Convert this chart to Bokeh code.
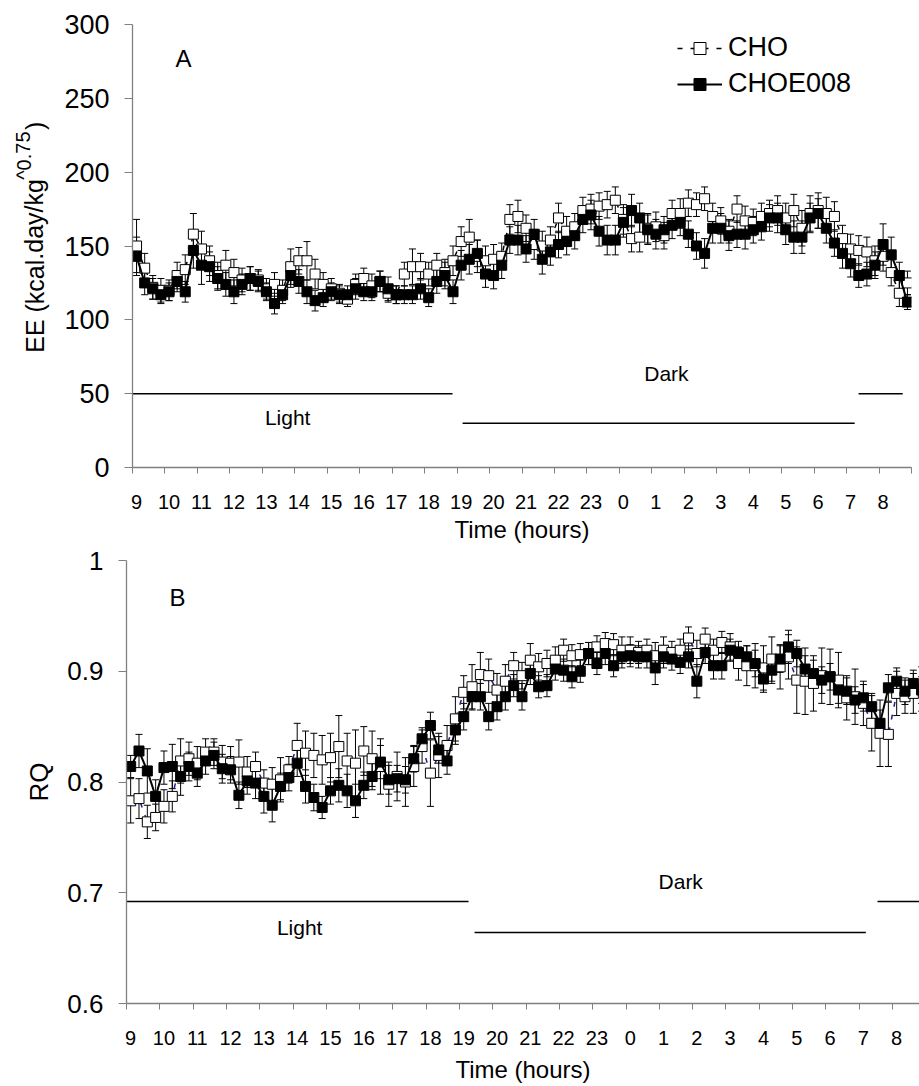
from bokeh.plotting import figure
from bokeh.models import (ColumnDataSource, FixedTicker, Whisker, TeeHead, Legend,
                          LegendItem, Label, Range1d)
from bokeh.layouts import column, row
from bokeh.embed import file_html
from bokeh.resources import INLINE

FONT = "Liberation Sans"

# ---------------- data ----------------
HOUR_LABELS = ["9", "10", "11", "12", "13", "14", "15", "16", "17", "18", "19", "20",
               "21", "22", "23", "0", "1", "2", "3", "4", "5", "6", "7", "8"]
N_BINS = 96                      # 15-minute bins from 09:00
TIME_H = [(i + 0.5) * 0.25 for i in range(N_BINS)]   # bin centres, hours after 09:00
HOUR_TICKS = list(range(25))
LABEL_POS = [k + 0.125 for k in range(24)]

EE_CHO = [150, 135, 122, 120, 120, 130, 134, 158, 148, 140,
          130, 137, 132, 127, 128, 127, 121, 124, 120, 136,
          140, 140, 131, 124, 121, 118, 114, 124, 128, 123,
          126, 118, 117, 131, 136, 136, 131, 137, 132, 140,
          153, 156, 143, 140, 141, 143, 168, 170, 162, 151,
          150, 154, 169, 160, 163, 174, 175, 177, 178, 181,
          168, 155, 156, 162, 163, 157, 172, 172, 179, 178,
          182, 170, 167, 160, 175, 167, 166, 170, 172, 174,
          169, 174, 162, 172, 174, 172, 170, 155, 148, 147,
          146, 140, 143, 132, 118, 125]
EE_CHO_ERR = [18, 10, 8, 8, 7, 9, 10, 14, 12, 10,
              9, 10, 9, 8, 8, 7, 7, 8, 7, 12,
              9, 13, 10, 8, 7, 6, 5, 7, 7, 8,
              7, 6, 6, 8, 12, 9, 8, 8, 9, 10,
              10, 12, 11, 10, 10, 9, 10, 11, 9, 10,
              10, 9, 10, 10, 9, 9, 10, 9, 9, 9,
              10, 9, 10, 10, 10, 9, 9, 10, 9, 8,
              8, 9, 9, 8, 9, 10, 9, 9, 9, 10,
              10, 11, 12, 12, 12, 11, 10, 9, 10, 10,
              10, 10, 10, 9, 9, 8]
EE_E008 = [143, 125, 121, 117, 119, 126, 119, 147, 137, 136,
           128, 124, 119, 124, 128, 126, 119, 111, 117, 130,
           126, 119, 113, 115, 119, 117, 117, 121, 119, 119,
           126, 121, 117, 117, 117, 121, 115, 126, 130, 119,
           137, 141, 145, 131, 130, 137, 154, 154, 148, 158,
           141, 146, 151, 153, 157, 168, 171, 160, 154, 154,
           166, 174, 169, 161, 158, 161, 164, 166, 158, 150,
           145, 162, 162, 157, 158, 158, 161, 163, 169, 169,
           161, 156, 156, 169, 172, 162, 152, 145, 138, 130,
           131, 137, 151, 144, 130, 112]
EE_E008_ERR = [13, 8, 7, 6, 6, 7, 7, 12, 13, 10,
               8, 8, 8, 7, 8, 7, 6, 7, 6, 8,
               8, 8, 7, 6, 6, 6, 6, 7, 6, 6,
               7, 8, 6, 6, 6, 7, 6, 8, 9, 8,
               10, 10, 9, 9, 9, 9, 9, 10, 9, 10,
               10, 9, 9, 9, 9, 9, 10, 10, 10, 10,
               10, 11, 10, 10, 10, 9, 9, 9, 9, 9,
               10, 10, 10, 10, 9, 10, 9, 9, 9, 10,
               10, 11, 11, 10, 10, 10, 9, 10, 9, 8,
               8, 9, 14, 12, 9, 5]

RQ_CHO = [0.783, 0.785, 0.764, 0.768, 0.778, 0.787, 0.819, 0.821, 0.817, 0.827,
          0.827, 0.818, 0.817, 0.818, 0.809, 0.814, 0.799, 0.798, 0.802, 0.811,
          0.833, 0.826, 0.824, 0.820, 0.822, 0.832, 0.819, 0.817, 0.828, 0.821,
          0.814, 0.798, 0.805, 0.800, 0.814, 0.832, 0.808, 0.824, 0.833, 0.857,
          0.881, 0.886, 0.897, 0.896, 0.883, 0.891, 0.905, 0.896, 0.910, 0.904,
          0.907, 0.910, 0.919, 0.914, 0.915, 0.916, 0.922, 0.925, 0.924, 0.919,
          0.919, 0.917, 0.919, 0.914, 0.919, 0.917, 0.919, 0.930, 0.916, 0.929,
          0.919, 0.926, 0.922, 0.907, 0.905, 0.905, 0.903, 0.911, 0.904, 0.913,
          0.892, 0.891, 0.889, 0.896, 0.895, 0.892, 0.876, 0.877, 0.871, 0.853,
          0.844, 0.843, 0.880, 0.877, 0.880, 0.884]
RQ_CHO_ERR = [0.020, 0.018, 0.015, 0.012, 0.015, 0.014, 0.020, 0.015, 0.015, 0.012,
              0.012, 0.015, 0.015, 0.020, 0.014, 0.013, 0.012, 0.015, 0.020, 0.012,
              0.020, 0.020, 0.020, 0.022, 0.022, 0.028, 0.025, 0.030, 0.022, 0.025,
              0.025, 0.020, 0.022, 0.022, 0.018, 0.015, 0.030, 0.020, 0.018, 0.020,
              0.015, 0.020, 0.020, 0.015, 0.015, 0.015, 0.012, 0.012, 0.015, 0.012,
              0.012, 0.012, 0.010, 0.010, 0.010, 0.010, 0.010, 0.010, 0.010, 0.012,
              0.012, 0.010, 0.010, 0.012, 0.012, 0.010, 0.010, 0.010, 0.012, 0.010,
              0.010, 0.010, 0.012, 0.015, 0.018, 0.020, 0.020, 0.020, 0.020, 0.020,
              0.030, 0.030, 0.025, 0.025, 0.025, 0.025, 0.020, 0.025, 0.020, 0.025,
              0.030, 0.029, 0.020, 0.015, 0.018, 0.020]
RQ_E008 = [0.814, 0.828, 0.810, 0.787, 0.813, 0.814, 0.805, 0.814, 0.808, 0.819,
           0.824, 0.812, 0.811, 0.788, 0.801, 0.799, 0.787, 0.779, 0.796, 0.804,
           0.817, 0.796, 0.786, 0.777, 0.792, 0.797, 0.792, 0.783, 0.797, 0.805,
           0.818, 0.802, 0.803, 0.802, 0.821, 0.839, 0.851, 0.829, 0.819, 0.847,
           0.859, 0.877, 0.877, 0.859, 0.868, 0.877, 0.887, 0.877, 0.898, 0.886,
           0.887, 0.902, 0.901, 0.895, 0.900, 0.916, 0.907, 0.916, 0.905, 0.913,
           0.914, 0.913, 0.913, 0.903, 0.913, 0.911, 0.908, 0.913, 0.891, 0.917,
           0.905, 0.905, 0.919, 0.917, 0.913, 0.907, 0.893, 0.901, 0.911, 0.922,
           0.916, 0.902, 0.898, 0.892, 0.895, 0.883, 0.882, 0.874, 0.876, 0.868,
           0.853, 0.885, 0.891, 0.882, 0.889, 0.883]
RQ_E008_ERR = [0.010, 0.015, 0.020, 0.015, 0.015, 0.020, 0.017, 0.013, 0.012, 0.012,
               0.012, 0.013, 0.012, 0.012, 0.012, 0.014, 0.015, 0.015, 0.012, 0.012,
               0.012, 0.015, 0.012, 0.010, 0.012, 0.015, 0.015, 0.015, 0.012, 0.012,
               0.015, 0.013, 0.012, 0.012, 0.012, 0.010, 0.012, 0.012, 0.012, 0.013,
               0.012, 0.012, 0.012, 0.012, 0.012, 0.012, 0.010, 0.012, 0.010, 0.010,
               0.010, 0.010, 0.010, 0.010, 0.010, 0.010, 0.010, 0.010, 0.010, 0.010,
               0.010, 0.010, 0.010, 0.015, 0.010, 0.010, 0.010, 0.010, 0.015, 0.010,
               0.012, 0.012, 0.010, 0.010, 0.010, 0.012, 0.012, 0.012, 0.012, 0.015,
               0.012, 0.012, 0.012, 0.012, 0.012, 0.012, 0.012, 0.012, 0.012, 0.012,
               0.012, 0.012, 0.012, 0.012, 0.012, 0.012]

# light / dark phase bars (start hour, end hour, level)
EE_PHASE_X0 = [0.0, 10.17, 22.37]
EE_PHASE_X1 = [9.86, 22.25, 23.73]
EE_PHASE_Y = [50, 30, 50]
RQ_PHASE_X0 = [0.0, 10.45, 22.55]
RQ_PHASE_X1 = [10.27, 22.2, 24.0]
RQ_PHASE_Y = [0.692, 0.664, 0.692]

AXIS_GREY = "#808080"


def style_axes(p, y_ticks, y_font, y_overrides=None, x_title_standoff=6):
    xa = p.xaxis[0]
    xa.ticker = FixedTicker(ticks=LABEL_POS, minor_ticks=HOUR_TICKS)
    xa.major_label_overrides = {pos: lab for pos, lab in zip(LABEL_POS, HOUR_LABELS)}
    xa.major_tick_out = 0
    xa.major_tick_in = 0
    xa.minor_tick_out = 6
    xa.minor_tick_in = 0
    xa.minor_tick_line_color = AXIS_GREY
    xa.axis_line_color = AXIS_GREY
    xa.axis_line_width = 1.3
    xa.major_label_text_font = FONT
    xa.major_label_text_font_size = "20px"
    xa.major_label_text_color = "black"
    xa.major_label_standoff = 21
    xa.axis_label = "Time (hours)"
    xa.axis_label_text_font = FONT
    xa.axis_label_text_font_size = "24px"
    xa.axis_label_text_font_style = "normal"
    xa.axis_label_text_color = "black"
    xa.axis_label_standoff = x_title_standoff

    ya = p.yaxis[0]
    ya.ticker = FixedTicker(ticks=y_ticks, minor_ticks=[])
    if y_overrides:
        ya.major_label_overrides = y_overrides
    ya.major_tick_out = 8
    ya.major_tick_in = 0
    ya.minor_tick_out = 0
    ya.minor_tick_in = 0
    ya.major_tick_line_color = AXIS_GREY
    ya.axis_line_color = AXIS_GREY
    ya.axis_line_width = 1.3
    ya.major_label_text_font = FONT
    ya.major_label_text_font_size = y_font
    ya.major_label_text_color = "black"
    ya.major_label_standoff = 15
    p.outline_line_color = None
    p.xgrid.visible = False
    p.ygrid.visible = False


def add_series(p, vals, errs, open_marker, line_color, dash, cap):
    src = ColumnDataSource(dict(
        x=TIME_H, y=vals,
        lo=[v - e for v, e in zip(vals, errs)],
        up=[v + e for v, e in zip(vals, errs)]))
    p.add_layout(Whisker(source=src, base="x", lower="lo", upper="up", dimension="height",
                         line_color="black", line_width=1,
                         lower_head=TeeHead(size=cap, line_color="black", line_width=1),
                         upper_head=TeeHead(size=cap, line_color="black", line_width=1)))
    ln = p.line("x", "y", source=src, line_color=line_color,
                line_width=1.5 if dash else 2, line_dash=dash if dash else "solid")
    sq = p.scatter("x", "y", source=src, marker="square", size=10,
                   line_color="black", line_width=1,
                   fill_color="white" if open_marker else "black")
    return ln, sq


def add_label(p, x, y, text, size, angle=0.0, align="center", baseline="middle"):
    p.add_layout(Label(x=x, y=y, text=text, text_font=FONT, text_font_size=size,
                       text_color="black", angle=angle, text_align=align,
                       text_baseline=baseline))


H_A = 545
TITLE_W = 60
A_TOP = 24
A_FRAME_H = 446
A_BOTTOM = H_A - A_TOP - A_FRAME_H

# ---------------- y-axis title strip for panel A (superscript needs 3 pieces) ----------------
# same vertical borders and y-range as panel A, so label y values are EE units
tA = figure(width=TITLE_W, height=H_A, x_range=Range1d(0, TITLE_W), y_range=Range1d(0, 300),
            x_axis_type=None, y_axis_type=None, output_backend="svg", toolbar_location=None,
            min_border_left=0, min_border_right=0,
            min_border_top=A_TOP, min_border_bottom=A_BOTTOM)
tA.outline_line_color = None
tA.grid.visible = False
# pieces centred (rotated 90 degrees, reading bottom to top)
add_label(tA, 34, 136.5, "EE (kcal.day/kg", "25px", angle=1.5708)
add_label(tA, 23, 211.2, "^0.75", "20px", angle=1.5708)
add_label(tA, 34, 231.4, ")", "25px", angle=1.5708)

# ---------------- panel A : EE ----------------
pA = figure(width=919 - TITLE_W, height=H_A, x_range=Range1d(0, 24), y_range=Range1d(0, 300),
            output_backend="svg", toolbar_location=None,
            min_border_left=132 - TITLE_W, min_border_right=8,
            min_border_top=A_TOP, min_border_bottom=A_BOTTOM)
style_axes(pA, [0, 50, 100, 150, 200, 250, 300], "27px", x_title_standoff=4)
pA.segment(x0=EE_PHASE_X0, y0=EE_PHASE_Y, x1=EE_PHASE_X1, y1=EE_PHASE_Y,
           line_color="black", line_width=1.5)
la1, sa1 = add_series(pA, EE_CHO, EE_CHO_ERR, True, "black", "5 8", 7)
la2, sa2 = add_series(pA, EE_E008, EE_E008_ERR, False, "black", None, 7)

legA = Legend(items=[LegendItem(label="CHO", renderers=[la1, sa1]),
                     LegendItem(label="CHOE008", renderers=[la2, sa2])],
              location=(545, 368), orientation="vertical",
              glyph_width=45, glyph_height=30, label_standoff=6, spacing=5,
              padding=0, margin=0, border_line_color=None, background_fill_alpha=0,
              label_text_font=FONT, label_text_font_size="27px", label_text_color="black")
pA.add_layout(legA)

add_label(pA, 1.57, 277, "A", "24px")
add_label(pA, 4.78, 33.6, "Light", "21px")
add_label(pA, 16.45, 63.9, "Dark", "21px")

# ---------------- panel B : RQ ----------------
H_B = 540
pB = figure(width=919, height=H_B, x_range=Range1d(0, 23.81), y_range=Range1d(0.6, 1.0),
            output_backend="svg", toolbar_location=None,
            min_border_left=126, min_border_right=0, min_border_top=15,
            min_border_bottom=H_B - 15 - 445)
style_axes(pB, [0.6, 0.7, 0.8, 0.9, 1.0], "26px",
           y_overrides={0.6: "0.6", 0.7: "0.7", 0.8: "0.8", 0.9: "0.9", 1.0: "1"},
           x_title_standoff=8)
pB.yaxis[0].axis_label = "RQ"
pB.yaxis[0].axis_label_text_font = FONT
pB.yaxis[0].axis_label_text_font_size = "26px"
pB.yaxis[0].axis_label_text_font_style = "normal"
pB.yaxis[0].axis_label_text_color = "black"
pB.yaxis[0].axis_label_standoff = 10
pB.segment(x0=RQ_PHASE_X0, y0=RQ_PHASE_Y, x1=RQ_PHASE_X1, y1=RQ_PHASE_Y,
           line_color="black", line_width=1.5)
add_series(pB, RQ_CHO, RQ_CHO_ERR, True, "#1f1f8f", "5 8", 7)
add_series(pB, RQ_E008, RQ_E008_ERR, False, "black", None, 7)
add_label(pB, 1.53, 0.9667, "B", "24px")
add_label(pB, 5.2, 0.669, "Light", "21px")
add_label(pB, 16.64, 0.7106, "Dark", "21px")

layout = column(row(tA, pA, spacing=0), pB, spacing=0)
open("out.html", "w").write(file_html(layout, INLINE))
